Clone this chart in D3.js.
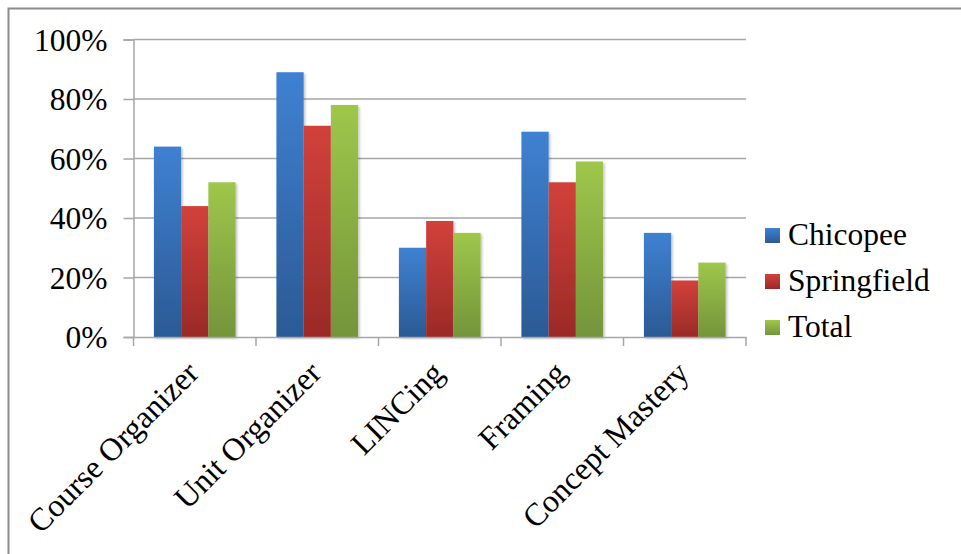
<!DOCTYPE html>
<html>
<head>
<meta charset="utf-8">
<script src="https://cdn.jsdelivr.net/npm/d3@7"></script>
<style>
  html, body { margin: 0; padding: 0; background: #fff; }
  svg { display: block; }
</style>
</head>
<body>
<svg id="chart" width="961" height="554" font-family="'Liberation Serif', serif"></svg>
<script>
const categories = ["Course Organizer", "Unit Organizer", "LINCing", "Framing", "Concept Mastery"];
const seriesNames = ["Chicopee", "Springfield", "Total"];
const chicopee = [64, 89, 30, 69, 35];
const springfield = [44, 71, 39, 52, 19];
const total = [52, 78, 35, 59, 25];
const yTicks = [0, 20, 40, 60, 80, 100];
const colorsTop = ["#3f81d2", "#d2413b", "#9ec74b"];
const colorsBottom = ["#2b5a95", "#9a2a27", "#74943a"];

const seriesValues = [chicopee, springfield, total];
const FONT = "'Liberation Serif', 'Times New Roman', serif";

const svg = d3.select("#chart");
const mLeft = 133.5, mRight = 746, mTop = 39.5, mBottom = 337;

const x = d3.scaleBand().domain(categories).range([mLeft, mRight]).paddingInner(0).paddingOuter(0);
const y = d3.scaleLinear().domain([0, 100]).range([mBottom, mTop]);
const barW = x.bandwidth() / (3 + 1.5);
const gap = x.bandwidth() - 3 * barW;
const xs = d3.scaleBand().domain(seriesNames).range([gap / 2, x.bandwidth() - gap / 2]).padding(0);

// gradients
const defs = svg.append("defs");
seriesNames.forEach((s, i) => {
  const g = defs.append("linearGradient").attr("id", "grad" + i)
    .attr("x1", 0).attr("y1", 0).attr("x2", 0).attr("y2", 1);
  g.append("stop").attr("offset", "0%").attr("stop-color", colorsTop[i]);
  g.append("stop").attr("offset", "100%").attr("stop-color", colorsBottom[i]);
});
const f = defs.append("filter").attr("id", "shadow").attr("x", "-20%").attr("y", "-20%").attr("width", "150%").attr("height", "150%");
f.append("feDropShadow").attr("dx", 1.5).attr("dy", 1.5).attr("stdDeviation", 1.2).attr("flood-color", "#000").attr("flood-opacity", 0.25);

// frame
svg.append("path").attr("d", "M8.5,565 L8.5,8.5 L975,8.5").attr("fill", "none").attr("stroke", "#8c8c8c").attr("stroke-width", 2);

// gridlines
svg.append("g").selectAll("line").data(yTicks.filter(d => d > 0)).join("line")
  .attr("x1", mLeft).attr("x2", mRight)
  .attr("y1", d => y(d)).attr("y2", d => y(d))
  .attr("stroke", "#a6a6a6").attr("stroke-width", 1.5);

// y axis
const yAxis = d3.axisLeft(y).tickValues(yTicks).tickSize(10).tickPadding(16).tickFormat(d => d + "%");
const gy = svg.append("g").attr("transform", `translate(${mLeft},0)`).call(yAxis)
  .attr("font-family", FONT).attr("font-size", 31.5);
gy.select(".domain").attr("stroke", "#a6a6a6").attr("stroke-width", 1.5);
gy.selectAll(".tick line").attr("stroke", "#a6a6a6").attr("stroke-width", 1.5);
gy.selectAll(".tick text").attr("fill", "#000").attr("dy", "0.34em");

// bars
const groups = svg.append("g").selectAll("g").data(categories).join("g")
  .attr("transform", d => `translate(${x(d)},0)`);
groups.selectAll("rect").data((c, ci) => seriesNames.map((s, si) => ({ s, si, v: seriesValues[si][ci] })))
  .join("rect")
  .attr("x", d => xs(d.s))
  .attr("width", xs.bandwidth())
  .attr("y", d => y(d.v))
  .attr("height", d => y(0) - y(d.v))
  .attr("fill", d => `url(#grad${d.si})`)
  .attr("filter", "url(#shadow)");

// x axis
const xAxis = d3.axisBottom(x).tickSize(0).tickFormat("");
const gx = svg.append("g").attr("transform", `translate(0,${mBottom})`).call(xAxis)
  .attr("font-family", FONT).attr("font-size", 32);
gx.select(".domain").attr("stroke", "#a6a6a6").attr("stroke-width", 1.5);
const bounds = categories.map(c => x(c)).concat([x(categories[categories.length - 1]) + x.bandwidth()]);
gx.append("g").selectAll("line").data(bounds).join("line")
  .attr("x1", d => d).attr("x2", d => d).attr("y1", 0).attr("y2", 9)
  .attr("stroke", "#a6a6a6").attr("stroke-width", 1.5);
gx.append("g").selectAll("text").data(categories).join("text")
  .attr("transform", d => `translate(${x(d) + x.bandwidth() / 2 - 10},${22}) rotate(-45)`)
  .attr("text-anchor", "end")
  .attr("dy", "0.7em")
  .attr("fill", "#000")
  .text(d => d);

// legend
const legend = svg.append("g").attr("transform", "translate(765,228)")
  .attr("font-family", FONT).attr("font-size", 31.5);
const li = legend.selectAll("g").data(seriesNames).join("g")
  .attr("transform", (d, i) => `translate(0,${i * 46})`);
li.append("rect").attr("width", 15).attr("height", 15).attr("fill", (d, i) => `url(#grad${i})`);
li.append("text").attr("x", 23).attr("y", 17).attr("fill", "#000").text(d => d);
</script>
</body>
</html>
